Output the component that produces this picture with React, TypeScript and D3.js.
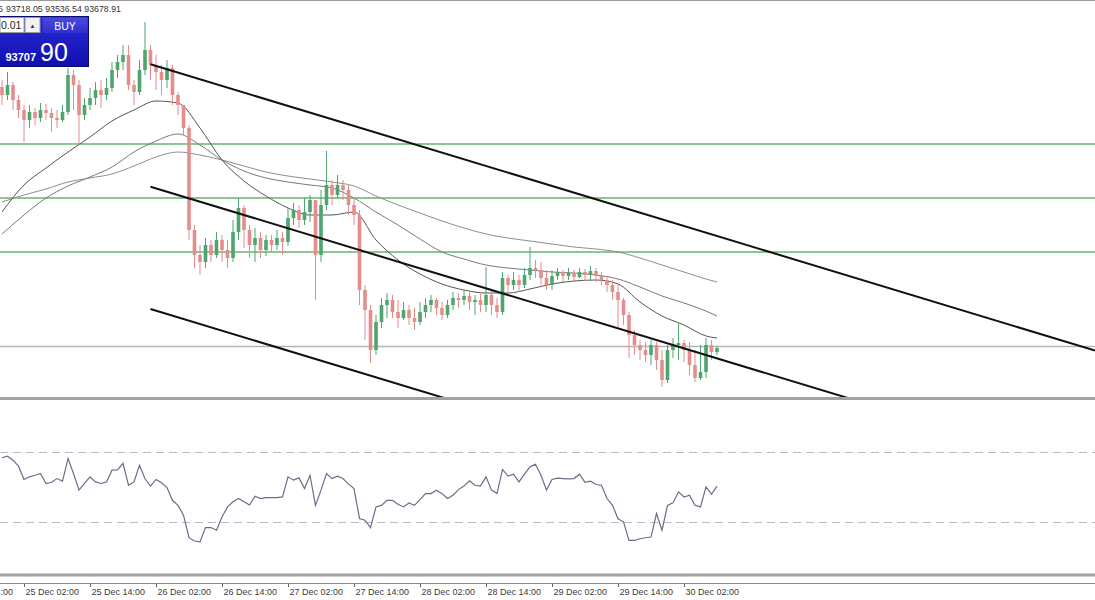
import React from "react";
import * as d3 from "d3";

// ---------- DATA ----------
const FIRST_BAR = new Date(2024, 11, 24, 22, 0); // hourly bars
const OPEN_0 = 98900;
const CLOSES = [
  98740, 98940, 98640, 98440, 98240, 98400, 98280, 98440, 98380, 98280,
  98240, 98400, 99140, 98940, 98340, 98540, 98680, 98840, 98740, 98880,
  99240, 99400, 99540, 98940, 98800, 99240, 99640, 99340, 99200, 99040,
  99280, 98740, 98540, 98080, 96040, 95540, 95400, 95740, 95540, 95840,
  95640, 95480, 96000, 96480, 96040, 95740, 95880, 95640, 95840, 95740,
  95880, 95800, 96280, 96440, 96240, 96400, 96640, 95540, 96540, 96940,
  96740, 96940, 96840, 96540, 96340, 94840, 94440, 93640, 94200, 94540,
  94640, 94400, 94280, 94440, 94280, 94200, 94400, 94540, 94640, 94480,
  94340, 94540, 94680, 94640, 94720, 94600, 94640, 94540, 94740, 94540,
  94400, 95080, 94940, 95040, 94940, 95140, 95280, 95240, 95080, 94940,
  95120, 95200, 95120, 95180, 95100, 95200, 95140, 95220, 95120, 95040,
  94940, 94800, 94640, 94340, 93940, 93740, 93640, 93540, 93740, 93440,
  93040, 93640, 93740, 93780, 93640, 93340, 93080, 93200, 93740, 93600,
  93678.91,
];
const HIGHS = [
  99040, 99200, 99000, 98740, 98540, 98540, 98480, 98580, 98560, 98480,
  98440, 98540, 99280, 99240, 99040, 98680, 98880, 99000, 99040, 99080,
  99400, 99540, 99740, 99740, 99040, 99440, 100200, 99740, 99540, 99340,
  99440, 99340, 98800, 98540, 98140, 96140, 95740, 95880, 95840, 96000,
  95940, 95840, 96240, 96680, 96540, 96140, 96080, 96000, 95940, 95940,
  96040, 96000, 96480, 96580, 96540, 96680, 96740, 96640, 96840, 97620,
  97040, 97140, 97040, 96940, 96680, 96440, 94940, 94540, 94340, 94680,
  94780, 94740, 94640, 94600, 94540, 94480, 94600, 94680, 94740, 94680,
  94600, 94640, 94800, 94780, 94840, 94800, 94740, 94800, 95300, 94840,
  94680, 95200, 95140, 95200, 95140, 95280, 95700, 95440, 95400, 95240,
  95240, 95280, 95240, 95280, 95240, 95280, 95260, 95320, 95280, 95200,
  95120, 95040, 94940, 94680, 94400, 94040, 93840, 93800, 93840, 93800,
  93640, 93740, 93880, 94180, 93840, 93800, 93640, 93740, 93880, 93840,
  93718.05,
];
const LOWS = [
  98540, 98640, 98440, 98280, 97800, 98080, 98140, 98200, 98240, 98000,
  98080, 98200, 98340, 98440, 97740, 98240, 98440, 98540, 98480, 98640,
  98800, 99080, 99240, 98840, 98540, 98740, 99140, 99040, 98840, 98740,
  98880, 98540, 98340, 97940, 95840, 95280, 95140, 95280, 95400, 95480,
  95400, 95280, 95400, 95840, 95680, 95480, 95400, 95480, 95520, 95600,
  95640, 95540, 95720, 96140, 96080, 96140, 96200, 94640, 95400, 96440,
  96540, 96680, 96640, 96340, 96140, 94540, 93840, 93380, 93540, 94080,
  94280, 94280, 94080, 94240, 94140, 94040, 94140, 94280, 94400, 94340,
  94240, 94280, 94440, 94480, 94540, 94440, 94340, 94400, 94400, 94340,
  94280, 94340, 94800, 94840, 94800, 94880, 95040, 95080, 94940, 94840,
  94840, 95040, 95000, 95040, 95000, 95080, 95020, 95040, 95000, 94940,
  94800, 94640, 94100, 94140, 93480, 93540, 93440, 93400, 93340, 93240,
  92900, 92980, 93480, 93440, 93400, 93140, 93000, 93040, 93080, 93440,
  93536.54,
];

// moving averages read at sampled bars
const MA_SAMPLE_BARS = [
  0, 4, 8, 12, 16, 20, 24, 28, 32, 36, 40, 44, 48, 52, 56, 60, 64, 68, 72,
  76, 80, 84, 88, 92, 96, 100, 104, 108, 112, 116, 120, 124, 128, 130,
];
const MA_FAST = [
  96400, 96940, 97280, 97600, 97900, 98220, 98440, 98620, 98580, 98080,
  97440, 97020, 96720, 96480, 96340, 96340, 96400, 95840, 95440, 95160,
  94960, 94840, 94780, 94780, 94860, 94960, 95020, 95040, 94960, 94600,
  94320, 94140, 93920, 93880,
];
const MA_MID = [
  95960, 96340, 96680, 96920, 97100, 97300, 97600, 97820, 97960, 97740,
  97440, 97220, 97080, 97000, 96940, 96880, 96680, 96400, 96140, 95860,
  95600, 95460, 95340, 95280, 95240, 95200, 95180, 95140, 95060, 94900,
  94720, 94580, 94420, 94320,
];
const MA_SLOW = [
  96600, 96740, 96860, 97000, 97080, 97160, 97320, 97500, 97600, 97540,
  97440, 97320, 97200, 97120, 97060, 97000, 96920, 96720, 96540, 96380,
  96220, 96080, 95960, 95880, 95820, 95760, 95700, 95660, 95600, 95480,
  95340, 95200, 95060, 95000,
];

const RSI = [
  67.0, 67.9, 65.6, 62.2, 54.6, 56.1, 57.0, 58.0, 52.3, 53.0,
  55.1, 53.6, 66.6, 58.0, 48.5, 52.3, 56.1, 53.2, 52.3, 53.2,
  59.9, 60.0, 63.8, 51.3, 53.2, 62.7, 55.0, 50.8, 54.6, 52.7,
  50.0, 42.7, 39.8, 34.2, 21.3, 19.4, 18.9, 27.1, 27.1, 25.6,
  33.2, 38.9, 41.8, 43.7, 41.8, 40.0, 45.0, 43.7, 44.2, 44.2,
  44.2, 44.6, 56.1, 54.2, 55.5, 49.4, 57.0, 39.8, 48.5, 58.0,
  55.1, 56.5, 55.1, 51.9, 49.4, 32.3, 31.3, 27.1, 38.9, 39.8,
  42.7, 42.7, 40.4, 38.9, 41.2, 39.8, 43.1, 46.5, 46.5, 48.5,
  46.5, 43.7, 45.6, 48.8, 50.8, 53.8, 51.3, 50.8, 56.1, 48.5,
  46.5, 60.3, 56.5, 57.6, 53.2, 57.6, 61.8, 63.3, 57.0, 48.5,
  54.6, 55.3, 55.1, 54.9, 55.1, 57.6, 52.9, 53.6, 51.7, 51.3,
  43.7, 39.8, 32.1, 30.4, 19.8, 19.8, 20.7, 21.3, 21.7, 35.1,
  25.6, 39.8, 41.2, 47.5, 44.6, 45.6, 39.8, 38.9, 50.4, 46.1,
  50.8,
];
const RSI_LEVELS = [70, 30];

const LEVELS = [97760, 96680, 95600];
const BID = 93707.9;

const TREND_BARS = [27, 127];
const TREND_UPPER = [99354, 96020];
const TREND_MIDDLE = [96906, 93573];
const TREND_LOWER = [94460, 91127];

const TICK_LABELS = [
  "24 Dec 14:00", "25 Dec 02:00", "25 Dec 14:00", "26 Dec 02:00",
  "26 Dec 14:00", "27 Dec 02:00", "27 Dec 14:00", "28 Dec 02:00",
  "28 Dec 14:00", "29 Dec 02:00", "29 Dec 14:00", "30 Dec 02:00",
];
const HEADER_OPEN = "93602.36";
const HEADER_VALUES = ["93718.05", "93536.54", "93678.91"];
const LOT = "0.01";
const BID_BIG = "93707";
const BID_SMALL = "90";

// ---------- LAYOUT ----------
const W = 1095;
const H = 600;
const MAIN_BOTTOM = 397;
const RSI_TOP = 400;
const RSI_BOTTOM = 575;
const AXIS_Y = 583.5;
const FONT = "'Liberation Sans', Arial, sans-serif";

const BULL = "#4ea56f";
const BEAR = "#e58c8c";

const barTime = (i: number) => d3.timeHour.offset(FIRST_BAR, i);
const parseTick = d3.timeParse("%Y %d %b %H:%M");

export default function App() {
  const x = d3
    .scaleTime()
    .domain([new Date(2024, 11, 25, 2), new Date(2024, 11, 30, 2)])
    .range([24, 684]);
  const y = d3.scaleLinear().domain([92700, 100640]).range([MAIN_BOTTOM, 0]);
  const yr = d3.scaleLinear().domain([0, 100]).range([RSI_BOTTOM, RSI_TOP]);

  const bars = CLOSES.map((c, i) => {
    const o = i === 0 ? OPEN_0 : CLOSES[i - 1];
    const h = Math.max(HIGHS[i], o, c);
    const l = Math.min(LOWS[i], o, c);
    return { t: barTime(i), o, h, l, c };
  });
  const bodyW = 3.6;

  const maLine = d3
    .line<number>()
    .x((_, k) => x(barTime(MA_SAMPLE_BARS[k])))
    .y((v) => y(v))
    .curve(d3.curveMonotoneX);

  const rsiLine = d3
    .line<number>()
    .x((_, i) => x(barTime(i)))
    .y((v) => yr(v));

  const trend = (prices: number[]) => {
    const x1 = x(barTime(TREND_BARS[0]));
    const y1 = y(prices[0]);
    const x2 = x(barTime(TREND_BARS[1]));
    const y2 = y(prices[1]);
    const xe = W;
    const ye = y1 + ((y2 - y1) * (xe - x1)) / (x2 - x1);
    return { x1, y1, x2: xe, y2: ye };
  };

  const ticks = TICK_LABELS.map((s) => ({ s, t: parseTick("2024 " + s)! }));

  return (
    <div style={{ position: "fixed", left: 0, top: 0, width: W, height: H, background: "#fff" }}>
      <svg width={W} height={H} style={{ display: "block" }}>
        <defs>
          <clipPath id="mainClip">
            <rect x={0} y={0} width={W} height={MAIN_BOTTOM} />
          </clipPath>
          <clipPath id="rsiClip">
            <rect x={0} y={RSI_TOP} width={W} height={RSI_BOTTOM - RSI_TOP} />
          </clipPath>
          <linearGradient id="boxGrad" x1="0" y1="0" x2="0" y2="1">
            <stop offset="0" stopColor="#2a2ad6" />
            <stop offset="1" stopColor="#1010b0" />
          </linearGradient>
          <linearGradient id="buyGrad" x1="0" y1="0" x2="0" y2="1">
            <stop offset="0" stopColor="#4a4ae0" />
            <stop offset="1" stopColor="#2f2fcf" />
          </linearGradient>
        </defs>

        <rect x={0} y={0} width={W} height={H} fill="#fff" />
        <line x1={0} x2={W} y1={0.5} y2={0.5} stroke="#9a9a9a" strokeWidth={1} />

        <g clipPath="url(#mainClip)">
          {/* horizontal levels */}
          {LEVELS.map((p, i) => (
            <line key={i} x1={0} x2={W} y1={y(p)} y2={y(p)} stroke="#63b56f" strokeWidth={1.5} />
          ))}
          <line x1={0} x2={W} y1={y(BID)} y2={y(BID)} stroke="#b5b5b5" strokeWidth={1.5} />

          {/* moving averages */}
          <path d={maLine(MA_SLOW)!} fill="none" stroke="#8f8f8f" strokeWidth={1} />
          <path d={maLine(MA_MID)!} fill="none" stroke="#7a7a7a" strokeWidth={1} />
          <path d={maLine(MA_FAST)!} fill="none" stroke="#555" strokeWidth={1} />

          {/* candles */}
          {bars.map((b, i) => {
            const cx = x(b.t);
            const col = b.c >= b.o ? BULL : BEAR;
            const top = y(Math.max(b.o, b.c));
            const bot = y(Math.min(b.o, b.c));
            return (
              <g key={i}>
                <line x1={cx} x2={cx} y1={y(b.h)} y2={y(b.l)} stroke={col} strokeWidth={1} />
                <rect x={cx - bodyW / 2} y={top} width={bodyW} height={Math.max(1, bot - top)} fill={col} />
              </g>
            );
          })}

          {/* channel */}
          {[TREND_UPPER, TREND_MIDDLE, TREND_LOWER].map((p, i) => {
            const s = trend(p);
            return <line key={i} x1={s.x1} y1={s.y1} x2={s.x2} y2={s.y2} stroke="#111" strokeWidth={2} />;
          })}
        </g>

        {/* panel separators */}
        <line x1={0} x2={W} y1={398.5} y2={398.5} stroke="#a2a2a2" strokeWidth={3} />
        <line x1={0} x2={W} y1={575} y2={575} stroke="#a2a2a2" strokeWidth={3} />

        {/* RSI */}
        <g clipPath="url(#rsiClip)">
          {RSI_LEVELS.map((v) => (
            <line key={v} x1={0} x2={W} y1={yr(v)} y2={yr(v)} stroke="#b9b9cc" strokeWidth={1} strokeDasharray="8,5" />
          ))}
          <path d={rsiLine(RSI)!} fill="none" stroke="#6c6c8a" strokeWidth={1.2} />
        </g>

        {/* time axis */}
        <line x1={0} x2={W} y1={AXIS_Y} y2={AXIS_Y} stroke="#8c8c8c" strokeWidth={1} />
        {ticks.map(({ s, t }) => {
          const tx = Math.round(x(t)) + 0.5;
          return (
            <g key={s}>
              <line x1={tx} x2={tx} y1={AXIS_Y} y2={AXIS_Y + 3.5} stroke="#666" strokeWidth={1} />
              <text x={tx + 1} y={595} fontFamily={FONT} fontSize={9} fill="#3c3c3c">
                {s}
              </text>
            </g>
          );
        })}

        {/* header */}
        <text x={3} y={11.5} fontFamily={FONT} fontSize={8.8} fill="#333" textAnchor="end">
          {HEADER_OPEN}
        </text>
        <text x={6} y={11.5} fontFamily={FONT} fontSize={8.8} fill="#333">
          {HEADER_VALUES.join(" ")}
        </text>

        {/* trade box */}
        <g>
          <rect x={-1} y={16.5} width={89.5} height={50} fill="url(#boxGrad)" stroke="#0a0a70" strokeWidth={1} />
          <rect x={0} y={17.5} width={24} height={15} fill="#fff" stroke="#9a9a9a" strokeWidth={1} />
          <text x={1} y={29} fontFamily={FONT} fontSize={10.5} fill="#222">
            {LOT}
          </text>
          <rect x={25} y={17.5} width={15} height={15} fill="#f2f2f2" stroke="#9a9a9a" strokeWidth={1} />
          <text x={32.5} y={28} fontFamily={FONT} fontSize={6} fill="#333" textAnchor="middle">
            ▲
          </text>
          <rect x={42.5} y={17.5} width={45} height={15.5} fill="url(#buyGrad)" />
          <text x={65} y={29.5} fontFamily={FONT} fontSize={10.5} fill="#fff" textAnchor="middle">
            BUY
          </text>
          <text x={5.5} y={60.5} fontFamily={FONT} fontSize={11} fontWeight="bold" fill="#fff">
            {BID_BIG}
          </text>
          <text x={40} y={61} fontFamily={FONT} fontSize={25} fill="#fff">
            {BID_SMALL}
          </text>
        </g>
      </svg>
    </div>
  );
}
